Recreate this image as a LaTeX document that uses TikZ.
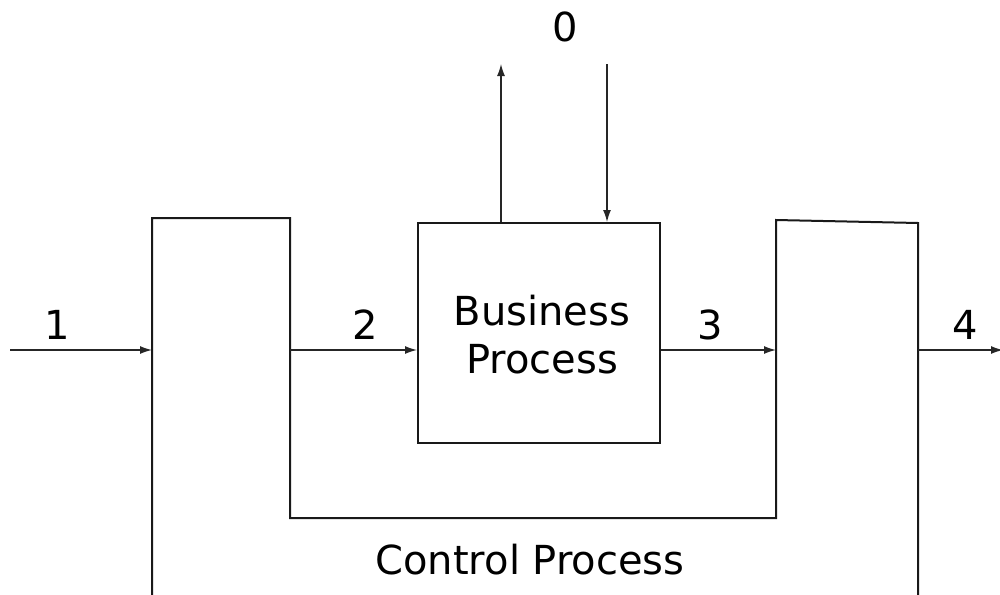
\documentclass[tikz,border=0pt]{standalone}
\usepackage{fontspec}
\setmainfont{DejaVu Sans}
\usetikzlibrary{arrows.meta}
\begin{document}
\begin{tikzpicture}[x=1pt,y=-1pt,
  frame/.style={draw=black!90, line width=2pt, line join=miter},
  flow/.style={draw=black!85, line width=1.3pt, -{Latex[length=12pt,width=8pt]}},
  lbl/.style={font=\fontsize{40}{44}\selectfont, inner sep=0pt},
  proc/.style={frame, rectangle, minimum width=242pt, minimum height=220pt,
    inner sep=0pt}]
\useasboundingbox (0,0) rectangle (1000,594);
\clip (0,0) rectangle (1000,594);

% control process outline (open at the bottom)
\coordinate (cpLB) at (152,600);
\coordinate (cpLT) at (152,218);
\coordinate (cpIL) at (290,218);
\coordinate (cpBL) at (290,518);
\coordinate (cpBR) at (776,518);
\coordinate (cpIR) at (776,220);
\coordinate (cpRT) at (918,223);
\coordinate (cpRB) at (918,600);
\draw[frame] (cpLB) -- (cpLT) -- (cpIL) -- (cpBL) -- (cpBR) -- (cpIR) -- (cpRT) -- (cpRB);

% business process box and its caption
\node[proc] (bp) at (539,333) {};
\node[align=center, font=\fontsize{40}{48}\selectfont, inner sep=0pt] (bpt) at (542,335) {Business\\Process};

% inputs and outputs
\coordinate (in1) at (10,350);
\coordinate (p1) at (152,350);
\coordinate (p2s) at (290,350);
\coordinate (p3e) at (776,350);
\coordinate (p4s) at (918,350);
\coordinate (out4) at (1003,350);
\coordinate (up0) at (501,64);
\coordinate (dn0) at (607,64);

\draw[flow] (in1) -- (p1);
\draw[flow] (p2s) -- (bp.west |- p2s);
\draw[flow] (bp.east |- p3e) -- (p3e);
\draw[flow] (p4s) -- (out4);
\draw[flow] (bp.north -| up0) -- (up0);
\draw[flow] (dn0) -- (bp.north -| dn0);

% labels
\node[lbl] (l0) at (565,27) {0};
\node[lbl] (l1) at (57,325) {1};
\node[lbl] (l2) at (365,325) {2};
\node[lbl] (l3) at (710,325) {3};
\node[lbl] (l4) at (965,325) {4};
\node[lbl] (cp) at (530,560) {Control Process};
\end{tikzpicture}
\end{document}
